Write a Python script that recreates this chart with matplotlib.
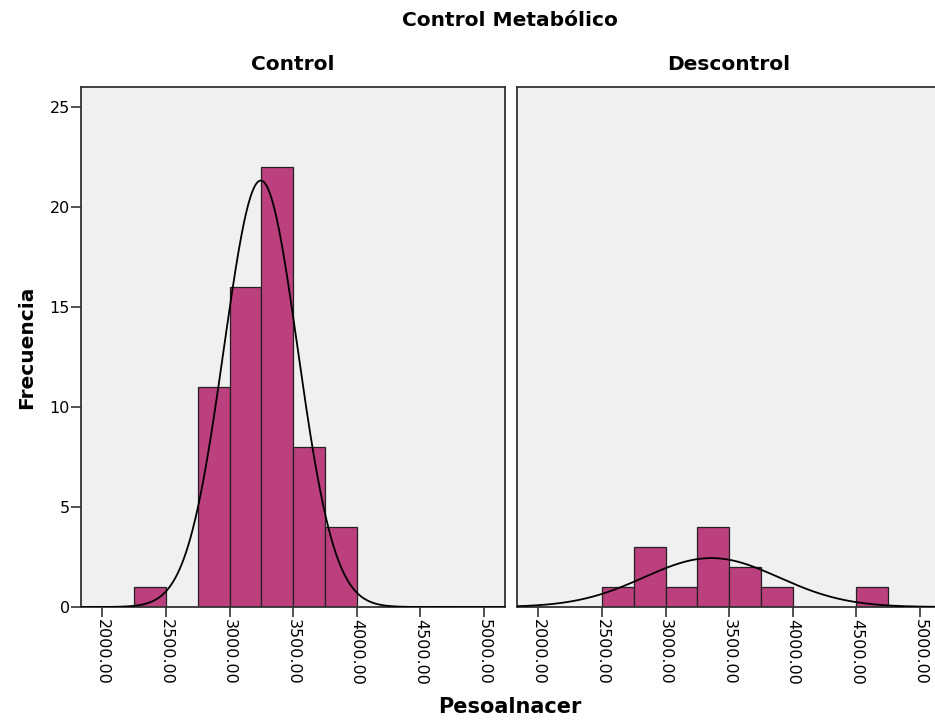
import numpy as np
import matplotlib.pyplot as plt

# histogram bins (left edges, width 250) and counts
bin_width = 250
control_bins = [2250, 2750, 3000, 3250, 3500, 3750]
control_counts = [1, 11, 16, 22, 8, 4]
descontrol_bins = [2500, 2750, 3000, 3250, 3500, 3750, 4500]
descontrol_counts = [1, 3, 1, 4, 2, 1, 1]

# fitted normal curve parameters (mean, sd)
control_fit = (3245, 290)
descontrol_fit = (3360, 530)

panel_titles = ['Control', 'Descontrol']
x_ticks = [2000, 2500, 3000, 3500, 4000, 4500, 5000]
y_ticks = [0, 5, 10, 15, 20, 25]

bar_color = '#bc3f7e'
bg_color = '#f0f0f0'

plt.rcParams['font.family'] = 'DejaVu Sans'

fig = plt.figure(figsize=(9.35, 7.23), dpi=100)
ax1 = fig.add_axes([81 / 935, 116 / 723, 424 / 935, 520 / 723])
ax2 = fig.add_axes([517 / 935, 116 / 723, 424 / 935, 520 / 723])

panels = [
    (ax1, control_bins, control_counts, control_fit),
    (ax2, descontrol_bins, descontrol_counts, descontrol_fit),
]

xs = np.linspace(1800, 5200, 600)
for i, (ax, bins, counts, (mu, sd)) in enumerate(panels):
    ax.set_facecolor(bg_color)
    ax.bar(bins, counts, width=bin_width, align='edge', color=bar_color,
           edgecolor='#222222', linewidth=0.9, zorder=2)
    n = sum(counts)
    curve = n * bin_width / (sd * np.sqrt(2 * np.pi)) * np.exp(-0.5 * ((xs - mu) / sd) ** 2)
    ax.plot(xs, curve, color='black', linewidth=1.3, zorder=3)

    ax.set_xlim(1831, 5166)
    ax.set_ylim(0, 26)
    ax.set_xticks(x_ticks)
    ax.set_xticklabels([f'{t:.2f}' for t in x_ticks], rotation=-90, fontsize=11.5)
    ax.tick_params(axis='x', direction='out', length=7.5, width=1.2, color='#333333', pad=1)
    ax.set_title(panel_titles[i], fontsize=14.5, fontweight='bold', pad=12)
    for s in ax.spines.values():
        s.set_color('#333333')
        s.set_linewidth(1.3)
    if i == 0:
        ax.set_yticks(y_ticks)
        ax.set_yticklabels([str(t) for t in y_ticks], fontsize=11.5)
        ax.tick_params(axis='y', direction='out', length=7, width=1.2, color='#333333', pad=1)
        ax.set_ylabel('Frecuencia', fontsize=14.5, fontweight='bold', labelpad=10)
    else:
        ax.set_yticks([])

fig.text(510 / 935, 1 - 20 / 723, 'Control Metabólico', ha='center', va='center',
         fontsize=14.5, fontweight='bold')
fig.text(510 / 935, 1 - 707 / 723, 'Pesoalnacer', ha='center', va='center',
         fontsize=15, fontweight='bold')

fig.savefig('out.png', dpi=100, facecolor='white')
